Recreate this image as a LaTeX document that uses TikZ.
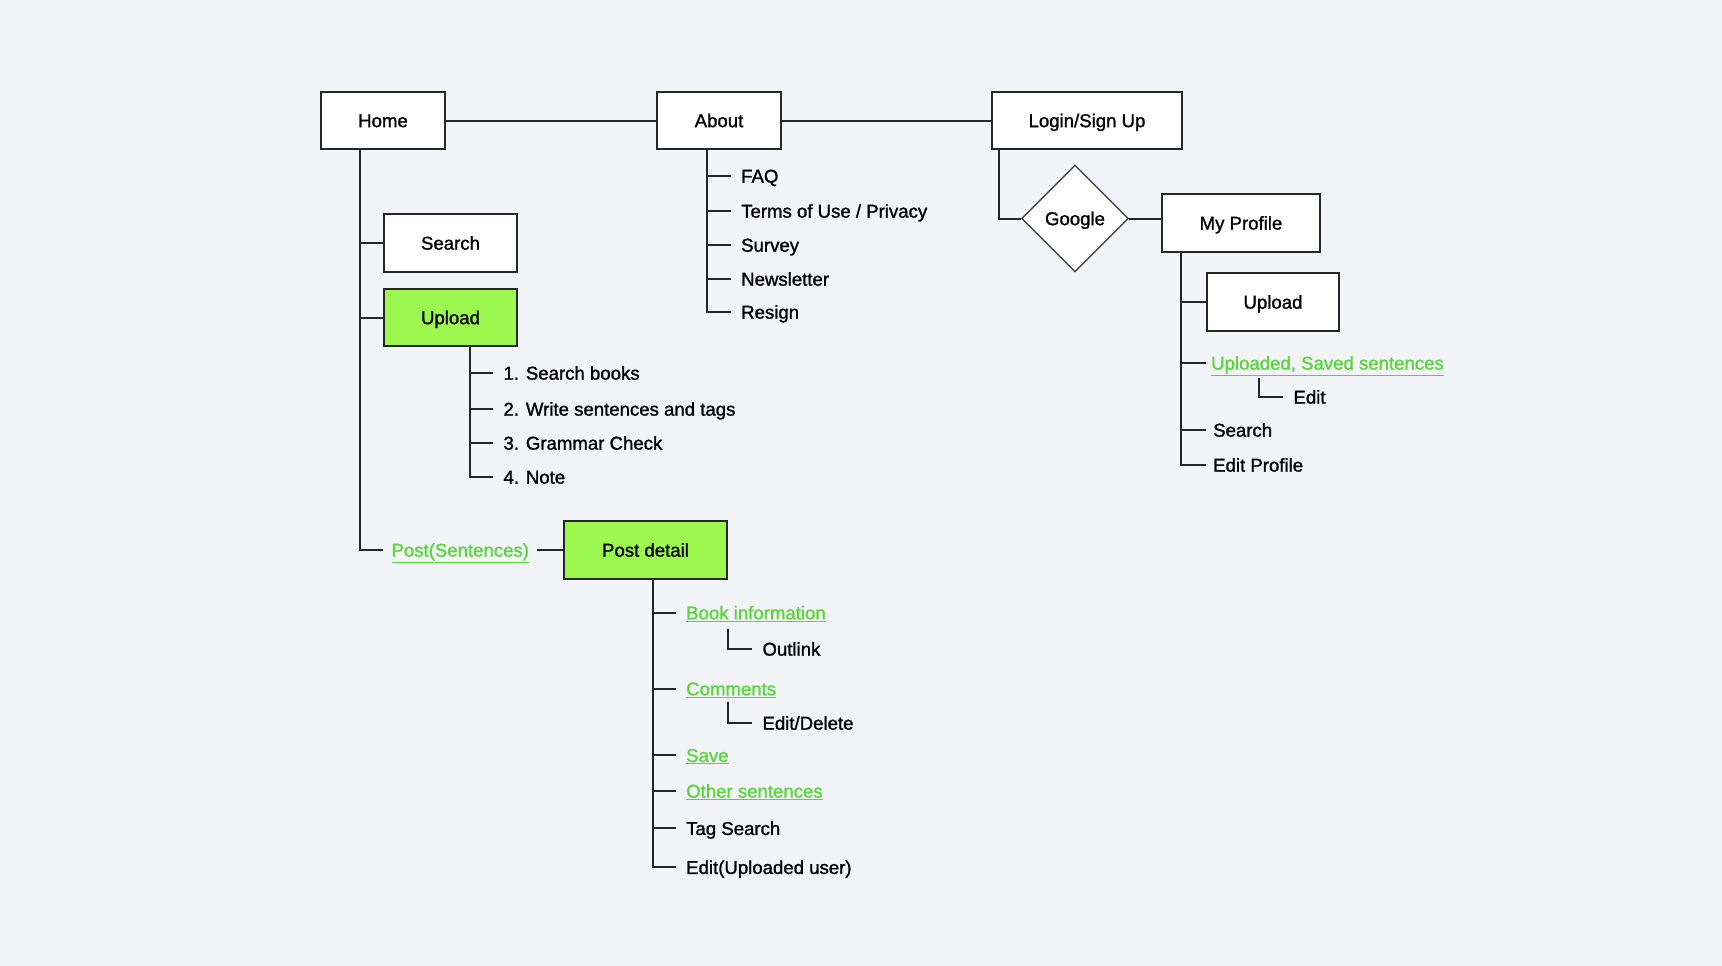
\documentclass[tikz,border=0pt]{standalone}
\usepackage{fontspec}
\setmainfont{Liberation Sans}[UprightFeatures={FakeBold=1.2}]
\usepackage{tikz}
\usetikzlibrary{positioning, shapes.geometric, calc}
\definecolor{pagebg}{HTML}{F3F4F8}
\definecolor{boxgreen}{HTML}{9CF84F}
\definecolor{linkgreen}{HTML}{58D63A}
\definecolor{inkgray}{HTML}{262626}
\tikzset{
	pagebox/.style={draw=inkgray, line width=2pt, fill=white, minimum width=124pt, minimum height=57pt, inner sep=0pt}
}
\tikzset{
	greenbox/.style={pagebox, fill=boxgreen}
}
\tikzset{
	gate/.style={diamond, aspect=1, draw=inkgray!85, line width=1.4pt, fill=white, minimum width=107pt, minimum height=107pt, inner sep=0pt}
}
\tikzset{
	leaf/.style={anchor=west, inner xsep=10pt, inner ysep=0pt},
	linkleaf/.style={leaf, text=linkgreen},
	wire/.style={draw=inkgray, line width=2pt}
}
\newcommand{\lnk}[1]{\underline{#1}}

\begin{document}
\begin{tikzpicture}[x=1pt, y=-1pt, every node/.style={font=\fontsize{18.6}{22}\selectfont, text height=13.3pt, text depth=0pt}]
      \fill[pagebg] (0,0) rectangle (1722,966);
      \useasboundingbox (0,0) rectangle (1722,966);
      % top row of pages
      \node[pagebox] (home) at (383,120.5) {Home};
      \node[pagebox] (about) at (719,120.5) {About};
      \node[pagebox, minimum width=190pt] (login) at (1087,120.5) {Login/Sign Up};
      \draw[wire] (home) -- (about);
      \draw[wire] (about) -- (login);
      % home branch
      \coordinate (hometrunk) at ([xshift=-23pt]home.south);
      \node[pagebox, minimum width=133pt, minimum height=58pt] (search) at (450.5,243) {Search};
      \node[greenbox, minimum width=133pt] (upload) at (450.5,317.5) {Upload};
      \node[linkleaf, inner xsep=8pt] (post) at (383.3,550) {\lnk{Post(Sentences)}};
      \node[greenbox, minimum width=163pt, minimum height=58pt] (detail) at (645.5,550) {Post detail};
      \draw[wire] (hometrunk |- search.west) -- (search.west);
      \draw[wire] (hometrunk |- upload.west) -- (upload.west);
      \draw[wire] (hometrunk) |- (post.west);
      \draw[wire] (post.east) -- (post.east -| detail.west);
      % upload steps
      \coordinate (uptrunk) at ([xshift=19pt]upload.south);
      \node[leaf] (step1) at (493.3,373) {1. Search books};
      \node[leaf] (step2) at (493.3,409) {2. Write sentences and tags};
      \node[leaf] (step3) at (493.3,443) {3. Grammar Check};
      \node[leaf] (step4) at (493.3,477) {4. Note};
      \foreach \n in {step1,step2,step3}
        \draw[wire] (uptrunk |- \n.west) -- (\n.west);
      \draw[wire] (uptrunk) |- (step4.west);
      % about branch
      \coordinate (abouttrunk) at ([xshift=-12pt]about.south);
      \node[leaf] (faq) at (731,176) {FAQ};
      \node[leaf] (terms) at (731,211) {Terms of Use / Privacy};
      \node[leaf] (survey) at (731,245) {Survey};
      \node[leaf] (news) at (731,279) {Newsletter};
      \node[leaf] (resign) at (731,312) {Resign};
      \foreach \n in {faq,terms,survey,news}
        \draw[wire] (abouttrunk |- \n.west) -- (\n.west);
      \draw[wire] (abouttrunk) |- (resign.west);
      % login branch
      \coordinate (logintrunk) at ([xshift=8pt]login.south west);
      \node[gate] (google) at (1075,218.5) {Google};
      \node[pagebox, minimum width=158pt, minimum height=58pt] (profile) at (1241,223) {My Profile};
      \draw[wire] (logintrunk) |- (google.west);
      \draw[wire] (google.east) -- (google.east -| profile.west);
      % my profile
      \coordinate (proftrunk) at ([xshift=20pt]profile.south west);
      \node[pagebox, minimum width=132pt, minimum height=58pt] (upload2) at (1273,302) {Upload};
      \node[linkleaf, inner xsep=5pt] (saved) at (1206,363) {\lnk{Uploaded, Saved sentences}};
      \node[leaf] (edit) at (1283.3,397) {Edit};
      \node[leaf, inner xsep=7pt] (psearch) at (1206,430) {Search};
      \node[leaf, inner xsep=7pt] (pedit) at (1206,465) {Edit Profile};
      \foreach \n in {upload2,saved,psearch}
        \draw[wire] (proftrunk |- \n.west) -- (\n.west);
      \draw[wire] (proftrunk) |- (pedit.west);
      \coordinate (editknee) at (1259.3,378.3);
      \draw[wire] (editknee) |- (edit.west);
      % post detail
      \coordinate (detailtrunk) at ([xshift=7pt]detail.south);
      \node[linkleaf] (book) at (676,612.7) {\lnk{Book information}};
      \node[leaf] (outlink) at (752.3,649) {Outlink};
      \node[linkleaf] (comments) at (676,688.7) {\lnk{Comments}};
      \node[leaf] (editdel) at (752.3,723) {Edit/Delete};
      \node[linkleaf] (save) at (676,755.3) {\lnk{Save}};
      \node[linkleaf] (others) at (676,791) {\lnk{Other sentences}};
      \node[leaf] (tagsearch) at (676,828.3) {Tag Search};
      \node[leaf] (editup) at (676,867.3) {Edit(Uploaded user)};
      \foreach \n in {book,comments,save,others,tagsearch}
        \draw[wire] (detailtrunk |- \n.west) -- (\n.west);
      \draw[wire] (detailtrunk) |- (editup.west);
      \coordinate (outknee) at (728.3,629.3);
      \coordinate (delknee) at (728.3,702.3);
      \draw[wire] (outknee) |- (outlink.west);
      \draw[wire] (delknee) |- (editdel.west);
\end{tikzpicture}
\end{document}
